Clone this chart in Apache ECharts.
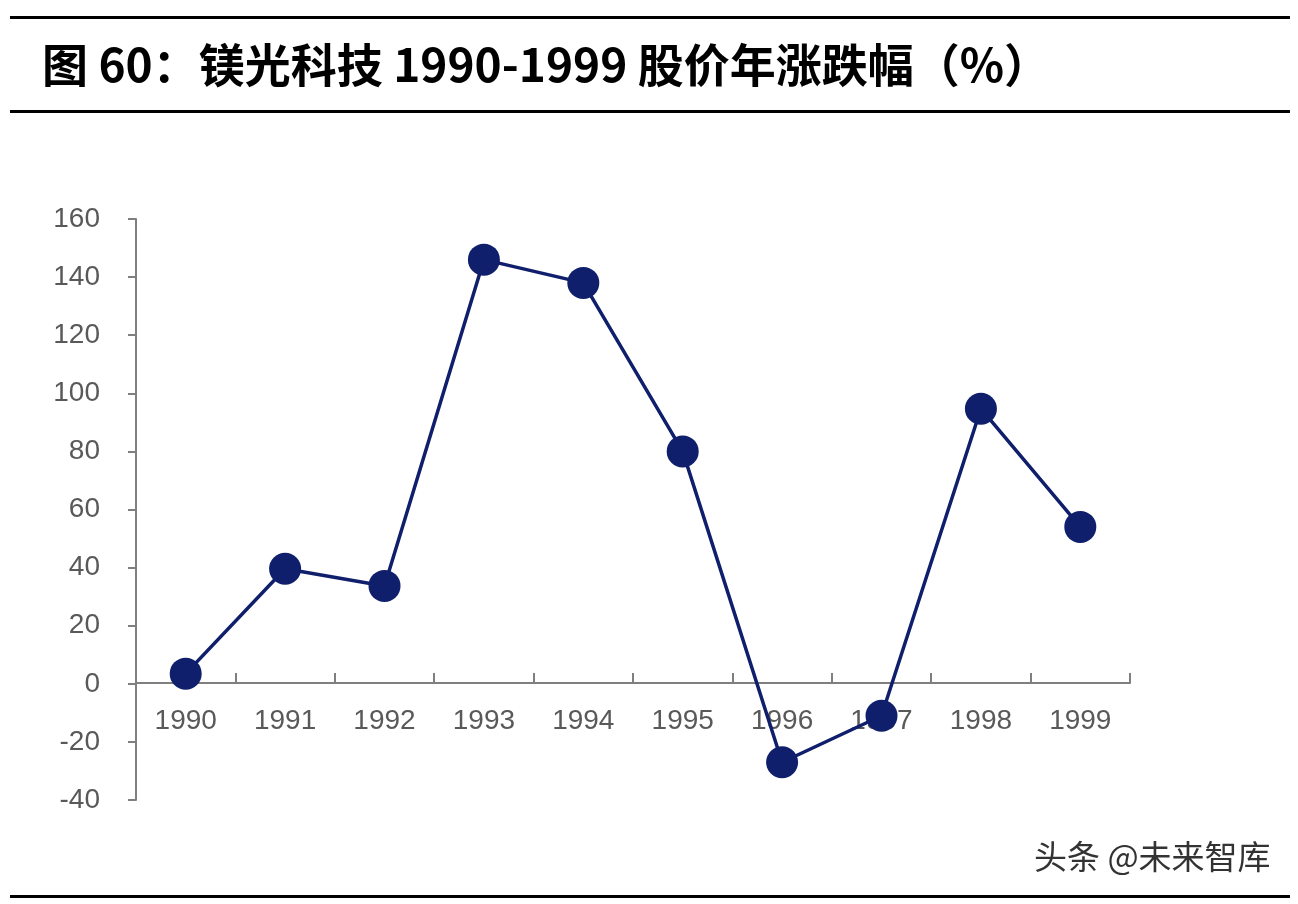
<!DOCTYPE html>
<html><head><meta charset="utf-8">
<script src="https://cdn.jsdelivr.net/npm/echarts@6/dist/echarts.min.js"></script>
<style>body{margin:0;background:#fff}#c{width:1298px;height:904px}</style>
</head><body><div id="c"></div>
<script>
const years = ['1990','1991','1992','1993','1994','1995','1996','1997','1998','1999'];
const changes = [3.5, 39.6, 33.7, 146, 138, 80, -27, -11, 94.7, 54];
const yTicks = {min:-40, max:160, interval:20};
const chart = echarts.init(document.getElementById('c'));
chart.setOption({
  animation:false,
  graphic:[
    {type:'rect',shape:{x:10,y:16,width:1280,height:3},style:{fill:'#000'}},
    {type:'text',left:42,top:42,style:{text:'图 60：镁光科技 1990-1999 股价年涨跌幅（%）',font:'bold 46px "Noto Sans CJK SC"',fill:'#000'}},
    {type:'rect',shape:{x:10,y:110,width:1280,height:3},style:{fill:'#000'}},
    {type:'rect',shape:{x:10,y:895,width:1280,height:3},style:{fill:'#000'}},
    {type:'text',left:1034,top:840,style:{text:'头条 @未来智库',font:'33px "Noto Sans CJK SC"',fill:'#333'}}
  ],
  grid:{left:136,right:168,top:219,bottom:104},
  xAxis:{type:'category',data:years,boundaryGap:true,offset:-117,
    axisLine:{show:true,onZero:false,lineStyle:{color:'#7f7f7f',width:2}},
    axisTick:{show:true,inside:true,length:10,interval:0,lineStyle:{color:'#7f7f7f',width:2}},
    axisLabel:{color:'#595959',fontSize:28,fontFamily:'Liberation Sans',margin:24}},
  yAxis:{type:'value',min:yTicks.min,max:yTicks.max,interval:yTicks.interval,
    splitLine:{show:false},
    axisLine:{show:true,lineStyle:{color:'#7f7f7f',width:2}},
    axisTick:{show:true,length:8,lineStyle:{color:'#7f7f7f',width:2}},
    axisLabel:{color:'#595959',fontSize:28,fontFamily:'Liberation Sans',margin:36}},
  series:[{type:'line',data:changes,symbol:'circle',symbolSize:32,z:5,
    lineStyle:{color:'#0f1f6b',width:3.5},itemStyle:{color:'#0f1f6b'}}]
});
</script></body></html>
